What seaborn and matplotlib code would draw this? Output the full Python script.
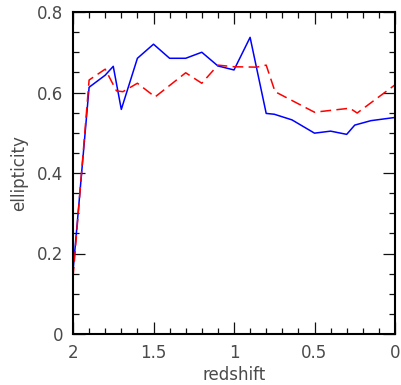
import matplotlib
matplotlib.use("Agg")
import matplotlib.pyplot as plt
from matplotlib.ticker import MultipleLocator
import numpy as np
import pandas as pd
import seaborn as sns

# Mean ellipticity as a function of redshift for two samples
z_solid = [2.0, 1.9, 1.8, 1.75, 1.7, 1.6, 1.5, 1.4, 1.3, 1.2, 1.1, 1.0,
           0.9, 0.8, 0.75, 0.64, 0.5, 0.4, 0.3, 0.25, 0.15, 0.0]
e_solid = [0.155, 0.613, 0.643, 0.665, 0.558, 0.685, 0.720, 0.685, 0.685,
           0.700, 0.666, 0.656, 0.737, 0.548, 0.546, 0.532, 0.499, 0.504,
           0.496, 0.519, 0.530, 0.538]

z_dashed = [2.0, 1.9, 1.8, 1.73, 1.69, 1.6, 1.49, 1.3, 1.2, 1.1, 1.0,
            0.86, 0.8, 0.745, 0.5, 0.28, 0.235, 0.0]
e_dashed = [0.14, 0.631, 0.658, 0.604, 0.602, 0.623, 0.589, 0.649, 0.623,
            0.668, 0.664, 0.663, 0.668, 0.602, 0.551, 0.561, 0.549, 0.619]

x_ticks = [2, 1.5, 1, 0.5, 0]
x_tick_labels = ["2", "1.5", "1", "0.5", "0"]
y_ticks = [0, 0.2, 0.4, 0.6, 0.8]
y_tick_labels = ["0", "0.2", "0.4", "0.6", "0.8"]

sns.set_style("ticks")
plt.rcParams["font.family"] = ["DejaVu Sans"]

solid = pd.DataFrame({"redshift": z_solid, "ellipticity": e_solid})
dashed = pd.DataFrame({"redshift": z_dashed, "ellipticity": e_dashed})

fig = plt.figure(figsize=(4.01, 3.85), dpi=100)
ax = fig.add_axes([73 / 401, 51 / 385, 322 / 401, 322 / 385])

sns.lineplot(data=solid, x="redshift", y="ellipticity", ax=ax,
             color="#0000ff", lw=1.1, sort=False)
sns.lineplot(data=dashed, x="redshift", y="ellipticity", ax=ax,
             color="#ff0000", lw=1.1, sort=False, dashes=False,
             linestyle=(0, (7, 3.5)))

ax.set_xlim(2, 0)
ax.set_ylim(0, 0.8)
ax.set_xticks(x_ticks)
ax.set_xticklabels(x_tick_labels)
ax.set_yticks(y_ticks)
ax.set_yticklabels(y_tick_labels)
ax.xaxis.set_minor_locator(MultipleLocator(0.1))
ax.yaxis.set_minor_locator(MultipleLocator(0.05))

text_color = "#4a4a4a"
ax.tick_params(which="both", direction="in", top=True, right=True,
               color="#111111", labelcolor=text_color, labelsize=12)
ax.tick_params(which="major", length=8.5, width=0.9)
ax.tick_params(which="minor", length=4.5, width=0.9)
ax.tick_params(axis="x", which="major", pad=7)
ax.tick_params(axis="y", which="major", pad=7)

for side in ["left", "right", "top", "bottom"]:
    ax.spines[side].set_visible(True)
    ax.spines[side].set_linewidth(1.5)
    ax.spines[side].set_color("black")

ax.set_xlabel("redshift", fontsize=12, color=text_color, labelpad=3)
ax.set_ylabel("ellipticity", fontsize=12, color=text_color, labelpad=6)

fig.savefig("out.png", dpi=100)
